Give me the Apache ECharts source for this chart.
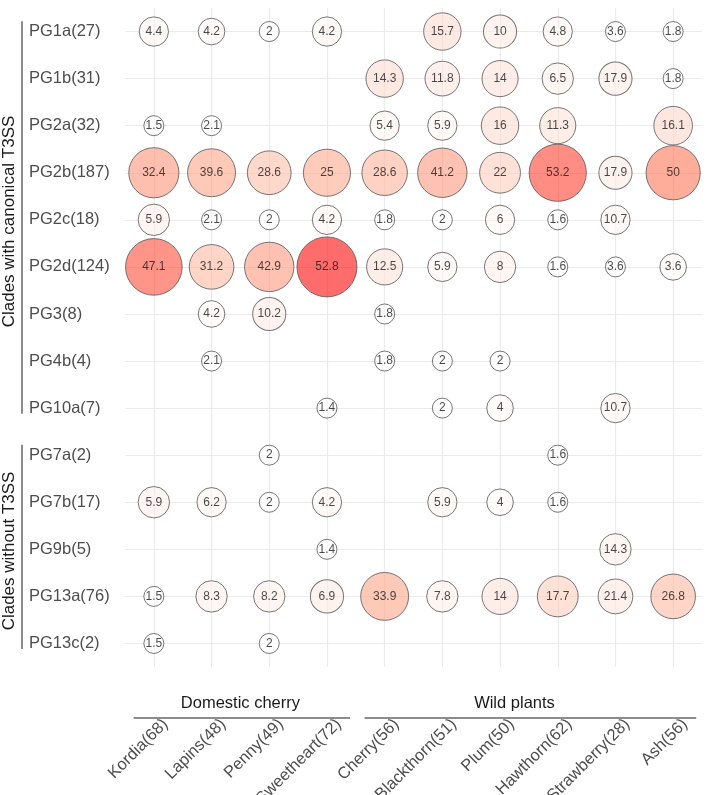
<!DOCTYPE html>
<html>
<head>
<meta charset="utf-8">
<script src="https://cdn.jsdelivr.net/npm/echarts@6/dist/echarts.min.js"></script>
<style>
  html, body { margin: 0; padding: 0; background: #fff; }
  #main { width: 709px; height: 795px; }
</style>
</head>
<body>
<div id="main"></div>
<script>
// hosts (columns) and number of isolates per host
const hosts = ["Kordia", "Lapins", "Penny", "Sweetheart", "Cherry", "Blackthorn", "Plum", "Hawthorn", "Strawberry", "Ash"];
const hostN = [68, 48, 49, 72, 56, 51, 50, 62, 28, 56];

// clades (rows)
const clades = ["PG1a(27)", "PG1b(31)", "PG2a(32)", "PG2b(187)", "PG2c(18)", "PG2d(124)", "PG3(8)",
  "PG4b(4)", "PG10a(7)", "PG7a(2)", "PG7b(17)", "PG9b(5)", "PG13a(76)", "PG13c(2)"];

// percentage of isolates of each host in each clade (null = none)
const pg1a  = [4.4, 4.2, 2, 4.2, null, 15.7, 10, 4.8, 3.6, 1.8];
const pg1b  = [null, null, null, null, 14.3, 11.8, 14, 6.5, 17.9, 1.8];
const pg2a  = [1.5, 2.1, null, null, 5.4, 5.9, 16, 11.3, null, 16.1];
const pg2b  = [32.4, 39.6, 28.6, 25, 28.6, 41.2, 22, 53.2, 17.9, 50];
const pg2c  = [5.9, 2.1, 2, 4.2, 1.8, 2, 6, 1.6, 10.7, null];
const pg2d  = [47.1, 31.2, 42.9, 52.8, 12.5, 5.9, 8, 1.6, 3.6, 3.6];
const pg3   = [null, 4.2, 10.2, null, 1.8, null, null, null, null, null];
const pg4b  = [null, 2.1, null, null, 1.8, 2, 2, null, null, null];
const pg10a = [null, null, null, 1.4, null, 2, 4, null, 10.7, null];
const pg7a  = [null, null, 2, null, null, null, null, 1.6, null, null];
const pg7b  = [5.9, 6.2, 2, 4.2, null, 5.9, 4, 1.6, null, null];
const pg9b  = [null, null, null, 1.4, null, null, null, null, 14.3, null];
const pg13a = [1.5, 8.3, 8.2, 6.9, 33.9, 7.8, 14, 17.7, 21.4, 26.8];
const pg13c = [1.5, null, 2, null, null, null, null, null, null, null];
const rows = [pg1a, pg1b, pg2a, pg2b, pg2c, pg2d, pg3, pg4b, pg10a, pg7a, pg7b, pg9b, pg13a, pg13c];

// groupings
const hostGroups = [
  { name: "Domestic cherry", from: 0, to: 3 },
  { name: "Wild plants", from: 4, to: 9 },
];
const cladeGroups = [
  { name: "Clades with canonical T3SS", from: 0, to: 8 },
  { name: "Clades without T3SS", from: 9, to: 13 },
];

// point = [host, clade, isolate count, percent]
const points = [];
rows.forEach((r, yi) => {
  r.forEach((p, xi) => {
    if (p == null) return;
    points.push([xi, yi, Math.round(p * hostN[xi] / 100), p]);
  });
});
const cMin = Math.min(...points.map((d) => d[2]));
const cMax = Math.max(...points.map((d) => d[2]));

const font = "'Liberation Sans', Arial, Helvetica, sans-serif";
const chart = echarts.init(document.getElementById("main"));

const option = {
  backgroundColor: "#fff",
  animation: false,
  grid: { left: 125, right: 7, top: 8, bottom: 128, containLabel: false, outerBoundsMode: "none" },
  xAxis: {
    type: "category",
    data: hosts.map((h, i) => h + "(" + hostN[i] + ")"),
    axisLine: { show: false },
    axisTick: { show: false },
    axisLabel: {
      rotate: 45,
      interval: 0,
      margin: 43,
      align: "right",
      verticalAlign: "top",
      padding: [8, 0, 0, 0],
      color: "#4d4d4d",
      fontSize: 16.5,
      fontFamily: font,
    },
    splitLine: { show: true, alignWithLabel: true, lineStyle: { color: "#ebebeb", width: 1.2 } },
  },
  yAxis: {
    type: "category",
    inverse: true,
    data: clades,
    axisLine: { show: false },
    axisTick: { show: false },
    axisLabel: {
      interval: 0,
      margin: 96,
      align: "left",
      color: "#4d4d4d",
      fontSize: 16.5,
      fontFamily: font,
    },
    splitLine: { show: true, alignWithLabel: true, lineStyle: { color: "#ebebeb", width: 1.2 } },
  },
  visualMap: {
    show: false,
    type: "continuous",
    dimension: 2,
    min: cMin,
    max: cMax,
    inRange: {
      color: [
        "rgba(255,255,255,0.72)",
        "rgba(255,207,191,0.72)",
        "rgba(255,158,129,0.72)",
        "rgba(255,108,78,0.72)",
        "rgba(255,0,0,0.72)",
      ],
    },
  },
  series: [
    {
      type: "scatter",
      data: points,
      symbolSize: function (v) {
        return 2 * (10 + 20 * Math.sqrt((v[2] - cMin) / (cMax - cMin)));
      },
      itemStyle: { borderColor: "#555", borderWidth: 1 },
      label: {
        show: true,
        position: "inside",
        formatter: (p) => String(p.value[3]),
        color: "#1a1a1a",
        fontSize: 12,
        fontFamily: font,
      },
      emphasis: { disabled: true },
    },
  ],
};
chart.setOption(option);

// group brackets drawn from axis positions
const px = (xi, yi) => chart.convertToPixel({ gridIndex: 0 }, [xi, yi]);
const bandX = px(1, 0)[0] - px(0, 0)[0];
const bandY = px(0, 1)[1] - px(0, 0)[1];
const graphics = [];
hostGroups.forEach((g) => {
  const x1 = px(g.from, 0)[0] - 0.35 * bandX;
  const x2 = px(g.to, 0)[0] + 0.4 * bandX;
  graphics.push({
    type: "line",
    shape: { x1: x1, y1: 718, x2: x2, y2: 718 },
    style: { stroke: "#666", lineWidth: 1.5 },
  });
  const cx = g.from === 0 ? (px(g.from, 0)[0] + px(g.to, 0)[0]) / 2 : px(6, 0)[0] + 0.25 * bandX;
  graphics.push({
    type: "text",
    x: cx,
    y: 703,
    style: { text: g.name, fill: "#1a1a1a", font: "16.5px " + font, align: "center", verticalAlign: "middle" },
  });
});
cladeGroups.forEach((g) => {
  const y1 = px(0, g.from)[1] - 0.22 * bandY;
  const y2 = px(0, g.to)[1] + 0.12 * bandY;
  graphics.push({
    type: "line",
    shape: { x1: 22, y1: y1, x2: 22, y2: y2 },
    style: { stroke: "#666", lineWidth: 1.5 },
  });
  graphics.push({
    type: "text",
    x: 9,
    y: (y1 + y2) / 2 + 4,
    rotation: Math.PI / 2,
    style: { text: g.name, fill: "#1a1a1a", font: "17px " + font, align: "center", verticalAlign: "middle" },
  });
});
chart.setOption({ graphic: graphics });
</script>
</body>
</html>
